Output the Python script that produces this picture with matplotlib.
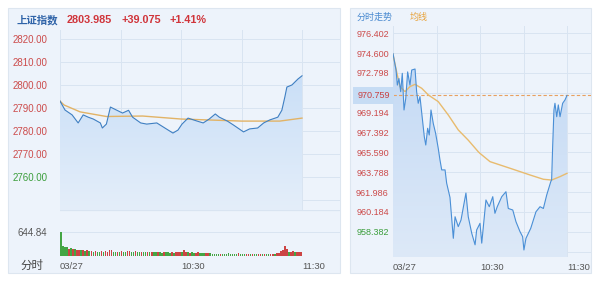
import numpy as np
import matplotlib
matplotlib.use("Agg")
import matplotlib.pyplot as plt
from matplotlib.colors import LinearSegmentedColormap
from matplotlib.patches import Rectangle
from matplotlib.transforms import blended_transform_factory

plt.rcParams['font.family'] = ['Liberation Sans', 'Noto Sans CJK SC']

# ---- 上证指数 (left panel), minutes after 09:30 ----
sh_minutes = [0, 2.5, 6, 9, 11.5, 14, 16.5, 20, 21, 23, 25, 28, 31, 34, 36, 40, 43, 48, 52, 56,
              58.5, 60.5, 63.5, 68, 71, 74, 77, 79, 83, 86, 91, 94, 98, 101, 104, 108, 110,
              111.5, 112.5, 115, 116.5, 118, 120]
sh_price = [2793.0, 2789.1, 2787.0, 2783.5, 2787.0, 2786.0, 2785.2, 2783.5, 2781.3, 2783.0,
            2790.4, 2789.1, 2787.8, 2789.0, 2786.0, 2783.5, 2783.0, 2783.5, 2781.3, 2779.1,
            2780.4, 2783.0, 2785.6, 2784.3, 2783.5, 2785.2, 2787.4, 2786.0, 2784.3, 2782.6,
            2779.6, 2780.9, 2781.3, 2783.5, 2784.8, 2786.0, 2789.0, 2794.8, 2799.1, 2800.0,
            2801.3, 2802.6, 2803.985]
sh_avg_minutes = [0, 2, 10, 23, 41, 60, 90, 109, 120]
sh_avg = [2793.0, 2791.3, 2788.3, 2786.3, 2786.5, 2785.2, 2784.3, 2784.3, 2785.6]
sh_prev_close = 2764.91
sh_ticks = [2820, 2810, 2800, 2790, 2780, 2770, 2760]
sh_vol = [640, 280, 230, 250, 200, 210, 180, 190, 170, 160, 150, 160, 140, 150, 130, 140, 120, 130, 110, 120,
          130, 110, 140, 120, 170, 150, 120, 110, 100, 110, 130, 110, 120, 140, 130, 120, 110, 130, 110, 120,
          110, 100, 110, 120, 100, 110, 100, 110, 100, 110, 90, 100, 110, 100, 90, 100, 90, 110, 100, 120,
          110, 150, 110, 100, 90, 100, 80, 90, 100, 80, 90, 70, 80, 90, 70, 60, 60, 60, 55, 60,
          55, 60, 55, 70, 60, 60, 55, 50, 70, 60, 55, 50, 60, 55, 50, 60, 55, 50, 60, 55,
          50, 60, 55, 50, 60, 55, 60, 70, 90, 130, 170, 270, 200, 120, 110, 130, 100, 120, 110, 100]
sh_vol_dir = ("ggggrgrgrrgrgrgrgrgg" "rgrrrrggrgrggrrggrgg" "rggrgrggrggrgggrgrrr"
              "grrgrggrrgggrrgggggr" "ggggggggrgggrrgrggrr" "grggrrgrrrrrrgrrgrrr")
sh_vol_label = 644.84

# ---- 分时走势 (right panel) ----
fund_minutes = [0, 2.1, 3.0, 4.1, 5.3, 6.4, 7.6, 8.8, 10.1, 11.7, 12.9, 15.2, 16.3, 17.4, 18.6,
                20.2, 21.6, 22.6, 23.9, 25.0, 26.2, 27.8, 29.4, 31.2, 32.4, 33.6, 35.9, 37.0,
                39.3, 41.6, 42.8, 45.0, 46.9, 50.3, 51.9, 54.3, 56.6, 57.7, 60.0, 61.2, 64.1,
                66.4, 68.8, 70.3, 71.9, 75.0, 77.9, 79.5, 82.6, 84.8, 87.6, 89.4, 90.3, 91.7,
                95.0, 98.6, 101.4, 103.7, 106.0, 108.8, 109.4, 110.1, 111.0, 111.7, 112.9,
                114.0, 115.2, 117.0, 118.6, 120]
fund_price = [974.56, 973.07, 971.7, 972.3, 971.1, 972.77, 969.44, 970.5, 972.9, 971.7, 973.07,
              973.16, 971.1, 970.05, 970.65, 968.7, 967.0, 966.26, 967.78, 967.17, 969.44,
              968.2, 967.32, 965.96, 964.9, 964.0, 964.0, 962.8, 961.5, 957.79, 959.75, 958.85,
              959.45, 961.9, 959.75, 958.25, 957.2, 958.55, 959.15, 957.35, 961.27, 960.66,
              961.57, 960.06, 960.66, 961.57, 962.02, 960.5, 960.36, 959.3, 958.39, 957.94,
              956.73, 957.79, 958.7, 960.2, 960.66, 960.5, 961.72, 962.93, 963.1, 966.1,
              969.44, 970.05, 968.83, 969.9, 968.83, 970.05, 970.35, 970.759]
fund_avg_minutes = [0, 2.5, 4.8, 8.3, 11.7, 15.2, 19.8, 24.4, 31.2, 38.1, 45, 51.9, 58.8, 60,
                    66.9, 80.7, 94.5, 103.7, 109.4, 115.2, 120]
fund_avg = [974.5, 972.9, 971.56, 971.1, 971.56, 971.77, 971.41, 970.8, 970.2, 968.99, 967.63,
            966.7, 965.65, 965.5, 964.75, 964.15, 963.54, 963.15, 963.08, 963.39, 963.69]
fund_ticks = [976.402, 974.600, 972.798, 969.194, 967.392, 965.590, 963.788, 961.986,
              960.184, 958.382]
fund_grid = [976.402, 974.600, 972.798, 970.996, 969.194, 967.392, 965.590, 963.788,
             961.986, 960.184, 958.382, 956.580]
fund_last = 970.759
fund_green_below = 959.0

time_ticks = [0, 60, 120]
time_labels = ["03/27", "10:30", "11:30"]

RED = "#cc4b4b"
GREEN = "#3c9e3c"
GRID = "#d9e4f1"
BG = "#edf3fb"


def gradient_fill(ax, x, y, y0, top, bottom):
    coll = ax.fill_between(x, y, y0, facecolor="none", edgecolor="none")
    path = coll.get_paths()[0]
    cmap = LinearSegmentedColormap.from_list("g", [bottom, top])
    grad = np.linspace(0, 1, 256).reshape(-1, 1)
    im = ax.imshow(grad, aspect="auto", cmap=cmap, origin="lower",
                   extent=[min(x), max(x), y0, max(y)], zorder=1)
    im.set_clip_path(path, ax.transData)


def style_ax(ax):
    ax.set_facecolor(BG)
    ax.set_zorder(2)
    for s in ax.spines.values():
        s.set_visible(False)
    ax.tick_params(length=0)


fig = plt.figure(figsize=(6.0, 2.83), dpi=100)
W, H = 600.0, 283.0


def box(x0, y0, x1, y1):
    return [x0 / W, 1 - y1 / H, (x1 - x0) / W, (y1 - y0) / H]


# panel backgrounds
for x0, x1 in [(8, 340), (350, 591)]:
    b = box(x0, 8, x1, 273)
    fig.patches.append(Rectangle((b[0], b[1]), b[2], b[3], transform=fig.transFigure,
                                 facecolor=BG, edgecolor="#dde6f0", linewidth=0.8, zorder=-1))

# ---------------- left: price ----------------
ax1 = fig.add_axes(box(60, 30, 340, 210))
style_ax(ax1)
x_right = 280 * 120 / 242
for v in [2820, 2810, 2800, 2790, 2780, 2770, 2760, 2750]:
    ax1.axhline(v, color=GRID, lw=0.7, zorder=0.5)
for m in [0, 30, 60, 90, 120]:
    ax1.axvline(m, color=GRID, lw=0.7, zorder=0.5)
gradient_fill(ax1, sh_minutes, sh_price, 2745.65, "#cadff7", "#e4eefa")
ax1.plot(sh_avg_minutes, sh_avg, color="#e2b366", lw=1.0, zorder=3)
ax1.plot(sh_minutes, sh_price, color="#3f7fc2", lw=0.8, zorder=4)
ax1.set_xlim(0, x_right)
ax1.set_ylim(2745.65, 2823.9)
ax1.set_xticks([])
ax1.set_yticks(sh_ticks)
ax1.set_yticklabels([f"{v:.2f}" for v in sh_ticks], fontsize=7.0)
ax1.tick_params(axis="y", pad=9)
for lab, v in zip(ax1.get_yticklabels(), sh_ticks):
    lab.set_color(RED if v >= sh_prev_close else GREEN)

fig.text(17 / W, 1 - 20 / H, "上证指数", fontsize=7.5, color="#2f63a8", va="center", fontweight="bold")
fig.text(67 / W, 1 - 20 / H, "2803.985", fontsize=7.8, color="#d0343a", va="center", fontweight="bold")
fig.text(121 / W, 1 - 20 / H, "+39.075", fontsize=7.8, color="#d0343a", va="center", fontweight="bold")
fig.text(170 / W, 1 - 20 / H, "+1.41%", fontsize=7.8, color="#d0343a", va="center", fontweight="bold")

# ---------------- left: volume ----------------
ax2 = fig.add_axes(box(60, 210, 340, 258))
style_ax(ax2)
ax2.axhline(sh_vol_label, color=GRID, lw=0.7, zorder=0.5)
ax2.axhline((256 - 210) * sh_vol_label / 24, color=GRID, lw=0.9, zorder=0.5)
bar_x = np.arange(len(sh_vol)) + 0.5
bar_c = ["#cc4444" if d == "r" else "#44a544" for d in sh_vol_dir]
ax2.bar(bar_x, sh_vol, width=0.75, color=bar_c, linewidth=0, zorder=2)
ax2.set_xlim(0, x_right)
ax2.set_ylim(-2 * sh_vol_label / 24, (256 - 210) * sh_vol_label / 24)
ax2.set_yticks([sh_vol_label])
ax2.set_yticklabels([f"{sh_vol_label:.2f}"], fontsize=7.0, color="#555555")
ax2.tick_params(axis="y", pad=9)
ax2.set_xticks(time_ticks)
ax2.set_xticklabels(time_labels, fontsize=6.8, color="#555555", ha="left")
ax2.tick_params(axis="x", pad=3)
fig.text(20 / W, 1 - 266 / H, "分时", fontsize=8.3, color="#444444", va="center")

# ---------------- right: fund ----------------
ax3 = fig.add_axes(box(393, 26, 591, 257))
style_ax(ax3)
r_right = (591 - 393) * 120 / 174
r_top = 976.402 + 7.3 / 11.015
r_bot = 976.402 - (257 - 33.3) / 11.015
for v in fund_grid:
    ax3.axhline(v, color=GRID, lw=0.7, zorder=0.5)
for m in [0, 30, 60, 90, 120]:
    ax3.axvline(m, color=GRID, lw=0.7, zorder=0.5)
gradient_fill(ax3, fund_minutes, fund_price, r_bot, "#c3d9f4", "#dde9f8")
ax3.axhline(fund_last, color="#e8a060", lw=0.8, ls=(0, (3, 2)), zorder=2)
ax3.plot(fund_avg_minutes, fund_avg, color="#e8bb6e", lw=1.0, zorder=3)
ax3.plot(fund_minutes, fund_price, color="#4a8fd6", lw=0.8, zorder=4)
ax3.set_xlim(0, r_right)
ax3.set_ylim(r_bot, r_top)
ax3.set_yticks(fund_ticks)
ax3.set_yticklabels([f"{v:.3f}" for v in fund_ticks], fontsize=6.5)
ax3.tick_params(axis="y", pad=3)
for lab, v in zip(ax3.get_yticklabels(), fund_ticks):
    lab.set_color(RED if v >= fund_green_below else GREEN)
ax3.set_xticks(time_ticks)
ax3.set_xticklabels(time_labels, fontsize=6.8, color="#555555", ha="left")
ax3.tick_params(axis="x", pad=4)
tr = blended_transform_factory(ax3.transAxes, ax3.transData)
ax3.text(-0.015, fund_last, f"{fund_last:.3f}", transform=tr, fontsize=6.5, color="#c84040",
         ha="right", va="center", clip_on=False,
         bbox=dict(boxstyle="square,pad=0.45", facecolor="#c6dcf4", edgecolor="none"))

fig.text(357 / W, 1 - 17 / H, "分时走势", fontsize=6.5, color="#4a8ad0", va="center")
fig.text(410 / W, 1 - 17 / H, "均线", fontsize=6.5, color="#e8a33c", va="center")

fig.savefig("out.png", dpi=100)
